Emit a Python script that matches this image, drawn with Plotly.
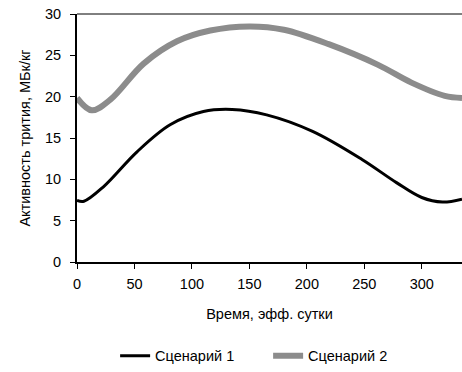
import plotly.graph_objects as go

# Data
x1 = [0, 6, 23, 52, 81, 110, 135, 165, 205, 248, 278, 300, 318, 335]
y1 = [7.45, 7.35, 9.1, 13.3, 16.6, 18.2, 18.45, 17.8, 15.8, 12.4, 9.6, 7.8, 7.25, 7.6]

x2 = [0, 12.8, 29, 58, 87, 116, 150, 180, 219, 262, 291, 320, 335]
y2 = [19.85, 18.35, 19.64, 24.0, 26.7, 28.0, 28.5, 28.1, 26.35, 23.85, 21.7, 20.1, 19.85]

names = ["Сценарий 1", "Сценарий 2"]
x_ticks = [0, 50, 100, 150, 200, 250, 300]
y_ticks = [0, 5, 10, 15, 20, 25, 30]

FONT = "Liberation Sans, Arial, sans-serif"
FS = 14.5

fig = go.Figure()
fig.add_trace(go.Scatter(x=x1, y=y1, mode="lines", name=names[0],
                         line=dict(color="#000000", width=3, shape="spline", smoothing=1.0)))
fig.add_trace(go.Scatter(x=x2, y=y2, mode="lines", name=names[1],
                         line=dict(color="#8c8c8c", width=6, shape="spline", smoothing=1.0)))

fig.update_layout(
    width=462, height=372,
    margin=dict(l=77, r=0, t=14, b=104),
    paper_bgcolor="white", plot_bgcolor="white",
    font=dict(family=FONT, size=FS, color="#000000"),
    showlegend=True,
    legend=dict(orientation="h", x=0.099, xanchor="left", y=-0.378, yanchor="middle",
                font=dict(family=FONT, size=FS, color="#000000"),
                itemwidth=30, entrywidth=108, tracegroupgap=0),
    shapes=[dict(type="line", xref="paper", yref="paper", x0=0, x1=1, y0=1, y1=1,
                 line=dict(color="#000000", width=1))],
)

fig.update_xaxes(
    range=[0, 335], tickvals=x_ticks, ticktext=[str(v) for v in x_ticks],
    showline=True, linecolor="#000000", linewidth=2,
    ticks="outside", ticklen=5, tickwidth=1, tickcolor="#000000",
    showgrid=False, zeroline=False, ticklabelstandoff=3,
    tickfont=dict(family=FONT, size=FS),
    title=dict(text="Время, эфф. сутки", font=dict(family=FONT, size=FS), standoff=17),
)
fig.update_yaxes(
    range=[0, 30], tickvals=y_ticks, ticktext=[str(v) for v in y_ticks],
    showline=True, linecolor="#000000", linewidth=2,
    ticks="outside", ticklen=5, tickwidth=1, tickcolor="#000000",
    showgrid=False, zeroline=False, ticklabelstandoff=6,
    tickfont=dict(family=FONT, size=FS),
    title=dict(text="Активность трития, МБк/кг", font=dict(family=FONT, size=FS), standoff=11),
)

fig.write_html("out.html")
